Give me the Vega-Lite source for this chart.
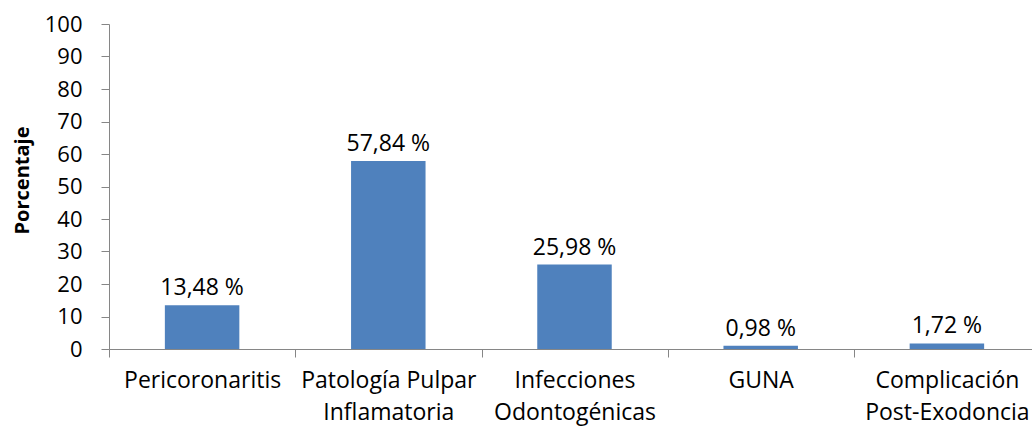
{
  "$schema": "https://vega.github.io/schema/vega-lite/v6.json",
  "width": 931,
  "height": 325,
  "autosize": {"type": "none"},
  "padding": {"left": 109, "top": 24, "right": 0, "bottom": 78},
  "background": "white",
  "config": {"view": {"stroke": null}, "font": "Open Sans"},
  "data": {
    "values": [
      {"categoria": "Pericoronaritis", "porcentaje": 13.48, "etiqueta": "13,48 %"},
      {"categoria": "Patología Pulpar|Inflamatoria", "porcentaje": 57.84, "etiqueta": "57,84 %"},
      {"categoria": "Infecciones|Odontogénicas", "porcentaje": 25.98, "etiqueta": "25,98 %"},
      {"categoria": "GUNA", "porcentaje": 0.98, "etiqueta": "0,98 %"},
      {"categoria": "Complicación|Post-Exodoncia", "porcentaje": 1.72, "etiqueta": "1,72 %"}
    ]
  },
  "encoding": {
    "x": {
      "field": "categoria",
      "type": "nominal",
      "sort": null,
      "scale": {"paddingInner": 0.6, "paddingOuter": 0.3},
      "axis": {
        "title": null,
        "labelAngle": 0,
        "labelExpr": "split(datum.label, '|')",
        "labelFont": "Open Sans",
        "labelFontSize": 23,
        "labelColor": "#000000",
        "labelLineHeight": 32,
        "labelPadding": 12,
        "labelLimit": 400,
        "labelOffset": 93,
        "ticks": true,
        "tickOffset": -93,
        "tickSize": 8,
        "tickColor": "#868686",
        "tickWidth": 1,
        "domainColor": "#868686",
        "grid": false
      }
    },
    "y": {
      "field": "porcentaje",
      "type": "quantitative",
      "scale": {"domain": [0, 100], "nice": false},
      "axis": {
        "title": "Porcentaje",
        "titleFont": "Open Sans",
        "titleFontSize": 20,
        "titleFontWeight": "bold",
        "titleColor": "#000000",
        "titleAngle": -90,
        "titleX": -87,
        "titleY": 156,
        "titleAlign": "center",
        "titleBaseline": "middle",
        "values": [0, 10, 20, 30, 40, 50, 60, 70, 80, 90, 100],
        "labelFont": "Open Sans",
        "labelFontSize": 22,
        "labelColor": "#000000",
        "labelPadding": 19,
        "tickSize": 8,
        "tickColor": "#868686",
        "domainColor": "#868686",
        "grid": false
      }
    }
  },
  "layer": [
    {"mark": {"type": "bar", "color": "#4F81BD"}},
    {
      "mark": {"type": "text", "font": "Open Sans", "fontSize": 23, "color": "#000000", "baseline": "alphabetic", "dy": -10},
      "encoding": {"text": {"field": "etiqueta"}}
    }
  ]
}
